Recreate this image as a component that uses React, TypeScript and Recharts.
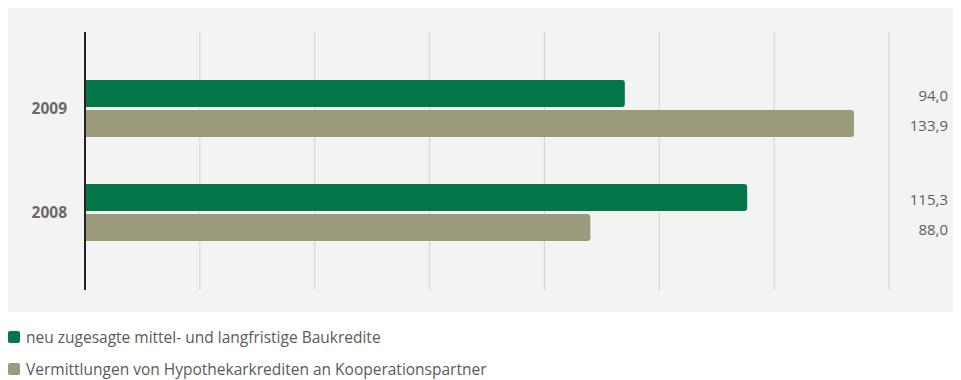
import { BarChart, Bar, XAxis, YAxis, CartesianGrid, LabelList } from 'recharts'

const years = ['2009', '2008']
const baukredite = [94.0, 115.3]
const vermittlungen = [133.9, 88.0]
const xTicks = [0, 20, 40, 60, 80, 100, 120, 140]

const seriesNames = [
  'neu zugesagte mittel- und langfristige Baukredite',
  'Vermittlungen von Hypothekarkrediten an Kooperationspartner',
]
const colors = ['#03764a', '#9b9a7c']

const FONT = '"Open Sans", "Noto Sans", sans-serif'
const WIDTH = 953
const HEIGHT = 304
const VALUE_X = 940

const fmt = (v: number) => v.toFixed(1).replace('.', ',')

const ValueLabel = (props: any) => {
  const { y, height, value } = props
  return (
    <text
      x={VALUE_X}
      y={Number(y) + Number(height) / 2 + 1}
      textAnchor="end"
      dominantBaseline="central"
      fill="#5e5e5e"
      fontSize={15}
      fontFamily={FONT}
    >
      {fmt(Number(value))}
    </text>
  )
}

export default function App() {
  const data = years.map((year, i) => ({
    year,
    baukredite: baukredite[i],
    vermittlungen: vermittlungen[i],
  }))

  return (
    <div style={{ width: WIDTH, fontFamily: FONT }}>
      <div style={{ background: '#f3f3f3', width: WIDTH, height: HEIGHT }}>
        <BarChart
          width={WIDTH}
          height={HEIGHT}
          data={data}
          layout="vertical"
          margin={{ top: 24, right: 72, bottom: 22, left: 0 }}
          barSize={27}
          barGap={3}
        >
          <CartesianGrid horizontal={false} stroke="#d4d4d4" verticalValues={xTicks} />
          <XAxis
            type="number"
            domain={[0, 140]}
            ticks={xTicks}
            tick={() => null}
            tickLine={false}
            axisLine={false}
            height={0}
          />
          <YAxis
            type="category"
            dataKey="year"
            width={77}
            padding={{ top: 24, bottom: 26 }}
            axisLine={{ stroke: '#222', strokeWidth: 2 }}
            tickLine={false}
            tickSize={0}
            tickMargin={18}
            tick={{ fill: '#6a6a6a', fontSize: 15.5, fontWeight: 700, fontFamily: FONT }}
          />
          <Bar dataKey="baukredite" fill={colors[0]} radius={[0, 3, 3, 0]} isAnimationActive={false}>
            <LabelList dataKey="baukredite" content={ValueLabel} />
          </Bar>
          <Bar dataKey="vermittlungen" fill={colors[1]} radius={[0, 3, 3, 0]} isAnimationActive={false}>
            <LabelList dataKey="vermittlungen" content={ValueLabel} />
          </Bar>
        </BarChart>
      </div>
      <div style={{ marginTop: 9, fontSize: 15.5, color: '#5a5a5a' }}>
        {seriesNames.map((name, i) => (
          <div key={name} style={{ display: 'flex', alignItems: 'center', height: 32 }}>
            <span
              style={{
                display: 'inline-block',
                width: 12,
                height: 12,
                background: colors[i],
                borderRadius: 2,
                marginRight: 6,
              }}
            />
            {name}
          </div>
        ))}
      </div>
    </div>
  )
}
